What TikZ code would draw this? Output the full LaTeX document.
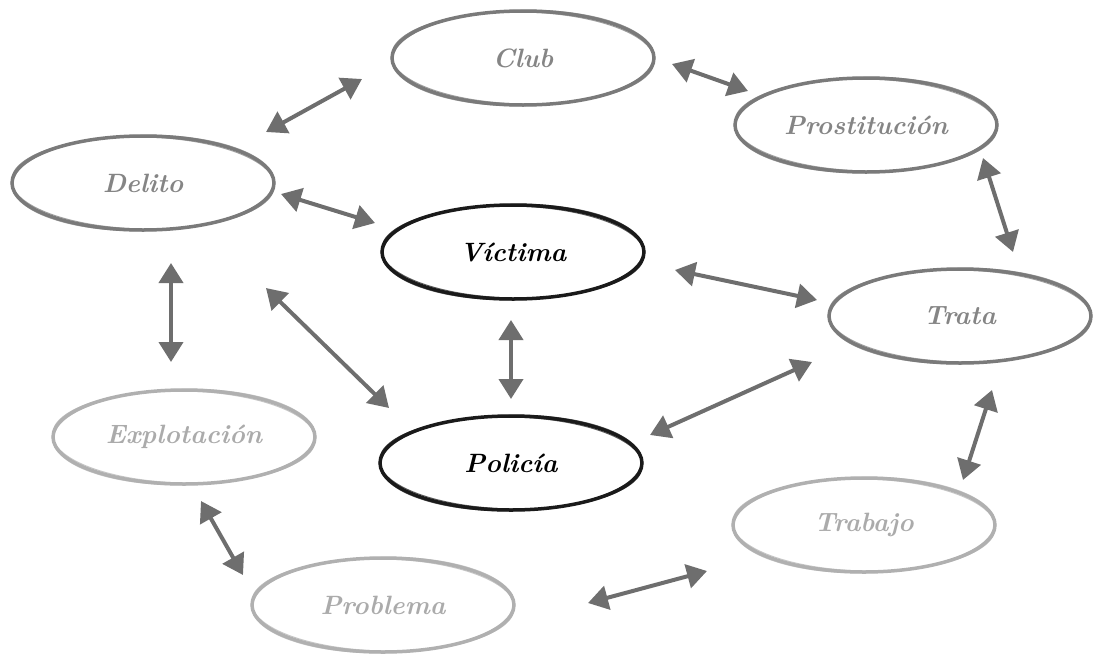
\documentclass[tikz,border=0pt]{standalone}
\usepackage{fontspec}
\setmainfont{Latin Modern Roman}
\usetikzlibrary{shapes.geometric,arrows.meta}
\definecolor{cmid}{HTML}{7A7A7A}
\definecolor{tmid}{HTML}{858585}
\definecolor{clight}{HTML}{B0B0B0}
\definecolor{tlight}{HTML}{ABABAB}
\definecolor{cdark}{HTML}{1A1A1A}
\definecolor{carrow}{HTML}{6E6E6E}
\tikzset{
  bub/.style={ellipse,minimum width=262pt,minimum height=94pt,inner sep=0pt,
    font=\fontsize{26.5}{28}\selectfont\bfseries\itshape},
  ringmid/.style={bub,draw=cmid,line width=3.5pt,text=tmid},
  ringdark/.style={bub,draw=cdark,line width=3.5pt,text=black},
  ringlight/.style={bub,draw=clight,line width=3.5pt,text=tlight},
  rough/.style={line width=1pt,opacity=0.7},
  link/.style={draw=carrow,line width=4pt,{Triangle[length=20pt,width=24pt]}-{Triangle[length=20pt,width=24pt]}},
}
\begin{document}
\begin{tikzpicture}[x=1pt,y=-1pt]
\useasboundingbox (0,0) rectangle (1095,659);
\node[ringmid]   (club)  at (523,58)  {Club};
\node[ringmid]   (prost) at (866,125) {Prostitución};
\node[ringmid]   (del)   at (143,183) {Delito};
\node[ringdark]  (vic)   at (513,252) {Víctima};
\node[ringmid]   (trata) at (960,316) {Trata};
\node[ringlight] (expl)  at (184,437) {Explotación};
\node[ringdark]  (pol)   at (511,463) {Policía};
\node[ringlight] (trab)  at (864,525) {Trabajo};
\node[ringlight] (prob)  at (383,605) {Problema};
% sketchy second strokes
\foreach \n/\c in {club/cmid,prost/cmid,del/cmid,trata/cmid,vic/cdark,pol/cdark,expl/clight,trab/clight,prob/clight}{
  \draw[rough,draw=\c,rotate around={-1.2:(\n.center)}] (\n.center) ellipse (131.5pt and 46pt);
  \draw[rough,draw=\c,rotate around={1:(\n.center)}] (\n.center) ellipse (130.5pt and 47.8pt);
}
% arrow end points
\coordinate (a1) at (266,132); \coordinate (b1) at (362,79);
\coordinate (a2) at (672,64);  \coordinate (b2) at (748,91);
\coordinate (a3) at (983,158); \coordinate (b3) at (1013,252);
\coordinate (a4) at (281,194); \coordinate (b4) at (375,223);
\coordinate (a5) at (675,270); \coordinate (b5) at (817,300);
\coordinate (a6) at (171,263); \coordinate (b6) at (171,362);
\coordinate (a7) at (266,288); \coordinate (b7) at (389,408);
\coordinate (a8) at (511,320); \coordinate (b8) at (511,399);
\coordinate (a9) at (812,362); \coordinate (b9) at (650,435);
\coordinate (a10) at (992,390); \coordinate (b10) at (963,480);
\coordinate (a11) at (707,571); \coordinate (b11) at (588,603);
\coordinate (a12) at (201,501); \coordinate (b12) at (243,575);
\draw[link] (a1) -- (b1);
\draw[link] (a2) -- (b2);
\draw[link] (a3) -- (b3);
\draw[link] (a4) -- (b4);
\draw[link] (a5) -- (b5);
\draw[link] (a6) -- (b6);
\draw[link] (a7) -- (b7);
\draw[link] (a8) -- (b8);
\draw[link] (a9) -- (b9);
\draw[link] (a10) -- (b10);
\draw[link] (a11) -- (b11);
\draw[link] (a12) -- (b12);
\end{tikzpicture}
\end{document}
